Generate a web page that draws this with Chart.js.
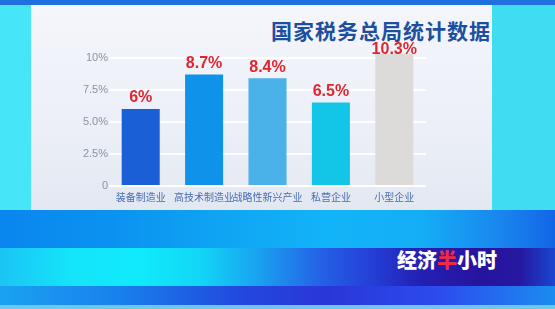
<!DOCTYPE html>
<html>
<head>
<meta charset="utf-8">
<script src="https://cdn.jsdelivr.net/npm/chart.js@4.4.1/dist/chart.umd.min.js"></script>
<style>
  html, body { margin: 0; padding: 0; }
  body { width: 555px; height: 309px; position: relative; overflow: hidden; background: #1a7ee8; }
  .strip-top { position: absolute; left: 0; top: 0; width: 555px; height: 5px; background: #1f6fdf; }
  .side-left { position: absolute; left: 0; top: 5px; width: 31px; height: 205px; background: #46e6f8; }
  .side-right { position: absolute; left: 492px; top: 5px; width: 63px; height: 205px; background: #3fdcf2; }
  .panel { position: absolute; left: 31px; top: 5px; width: 461px; height: 205px;
           background: linear-gradient(#f5f6fc, #eceff8 60%, #e2e8f1); }
  .row1 { position: absolute; left: 0; top: 210px; width: 555px; height: 38px;
          background: linear-gradient(90deg, #0a86ee 0, #0b92f0 110px, #0fa4f4 220px, #12b4f8 330px, #14aef6 420px, #1a86ee 500px, #1266e6 555px); }
  .row2 { position: absolute; left: 0; top: 248px; width: 555px; height: 38px;
          background: linear-gradient(90deg, #1bc4f4 0, #14e4fa 70px, #10eafc 140px, #12d6f6 200px, #1aa0f0 260px, #2462e6 320px, #2440d8 370px, #2420b4 420px, #26149e 480px, #2618a0 520px, #1a46d2 555px); }
  .row3 { position: absolute; left: 0; top: 286px; width: 555px; height: 19px;
          background: linear-gradient(90deg, #1aa2f2 0, #1880ec 120px, #2248de 240px, #2a36d8 330px, #2c4cee 440px, #1a8cf0 555px); }
  .row4 { position: absolute; left: 0; top: 305px; width: 555px; height: 4px; background: #6fc6f4; }
  .title { position: absolute; left: 271px; top: 15px; font: bold 21px "Noto Sans CJK SC", sans-serif;
           letter-spacing: 1px; color: #1c4f9e; white-space: nowrap; }
  .logo { position: absolute; left: 397px; top: 245px; font: 900 20px "Noto Sans CJK SC", sans-serif;
          color: #ffffff; white-space: nowrap; letter-spacing: 0px; }
  .logo span { color: #ee2a44; }
  canvas { position: absolute; left: 0; top: 0; }
</style>
</head>
<body>
<div class="strip-top"></div>
<div class="side-left"></div>
<div class="side-right"></div>
<div class="panel"></div>
<div class="row1"></div>
<div class="row2"></div>
<div class="row3"></div>
<div class="row4"></div>
<div class="title">国家税务总局统计数据</div>
<div class="logo">经济<span>半</span>小时</div>
<canvas id="chart" width="555" height="309"></canvas>
<script>
const categories = ['装备制造业', '高技术制造业', '战略性新兴产业', '私营企业', '小型企业'];
const growth = [6, 8.7, 8.4, 6.5, 10.3];
const valueLabels = ['6%', '8.7%', '8.4%', '6.5%', '10.3%'];
const yTickValues = [0, 2.5, 5, 7.5, 10];
const yTickLabels = ['0', '2.5%', '5.0%', '7.5%', '10%'];

const barColors = ['#1b5fd6', '#0f93ea', '#4bb1e9', '#13c6e8', '#dddbd9'];

// red percentages above each bar, kept just under the title
const valueLabelPlugin = {
    id: 'valueLabels',
    afterDatasetsDraw(chart) {
        const ctx = chart.ctx;
        const meta = chart.getDatasetMeta(0);
        ctx.save();
        ctx.font = 'bold 16px "Liberation Sans", Arial, sans-serif';
        ctx.fillStyle = '#e0252d';
        ctx.textAlign = 'center';
        ctx.textBaseline = 'bottom';
        meta.data.forEach((bar, i) => {
            ctx.fillText(valueLabels[i], bar.x, Math.max(bar.y - 3, 58));
        });
        ctx.restore();
    }
};

new Chart(document.getElementById('chart'), {
    type: 'bar',
    data: {
        labels: categories,
        datasets: [{
            data: growth,
            backgroundColor: barColors,
            borderWidth: 0,
            barPercentage: 0.6,
            categoryPercentage: 1
        }]
    },
    options: {
        responsive: false,
        animation: false,
        layout: { padding: { left: 0, right: 129, top: 50, bottom: 103 } },
        plugins: {
            legend: { display: false },
            tooltip: { enabled: false }
        },
        scales: {
            x: {
                grid: { display: false, drawTicks: false },
                border: { display: false },
                ticks: {
                    color: '#4a6db3',
                    font: { family: '"Noto Sans CJK SC", sans-serif', size: 10 },
                    maxRotation: 0,
                    minRotation: 0,
                    autoSkip: false,
                    padding: 5
                },
                afterFit(scale) { scale.height = 20; }
            },
            y: {
                min: 0,
                max: 10.6,
                border: { display: false },
                grid: { color: 'rgba(255,255,255,0.95)', lineWidth: 2, drawTicks: false },
                afterBuildTicks(scale) {
                    scale.ticks = yTickValues.map(v => ({ value: v }));
                },
                ticks: {
                    color: '#8a93a6',
                    font: { family: '"Liberation Sans", Arial, sans-serif', size: 11 },
                    padding: 1,
                    callback(value) {
                        const i = yTickValues.indexOf(value);
                        return i >= 0 ? yTickLabels[i] : '';
                    }
                },
                afterFit(scale) { scale.width = 109; }
            }
        }
    },
    plugins: [valueLabelPlugin]
});
</script>
</body>
</html>
